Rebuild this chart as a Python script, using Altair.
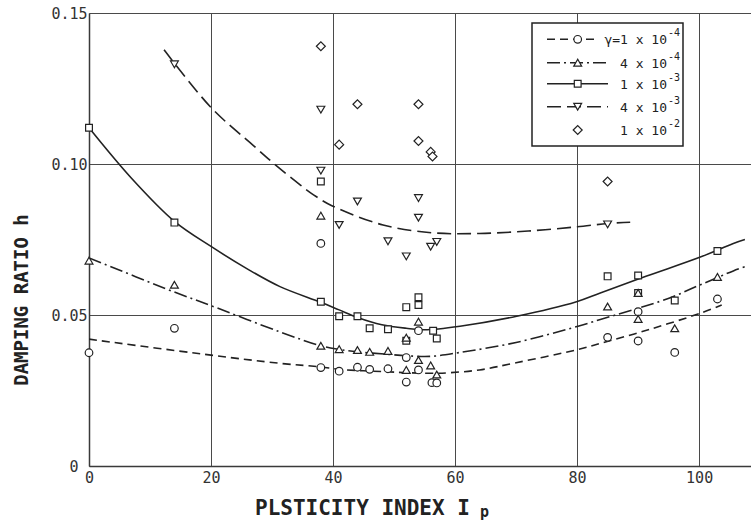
import altair as alt
import pandas as pd

# ---- measured damping ratios, one list pair per shear-strain level ----
circ_x = [0, 14, 38, 38, 41, 44, 46, 49, 52, 52, 54, 54, 56.2, 57, 85, 90, 90, 96, 103]
circ_y = [0.0375, 0.0456, 0.0737, 0.0326, 0.0314, 0.0327, 0.0320, 0.0322, 0.0359, 0.0278,
          0.0448, 0.0318, 0.0276, 0.0275, 0.0426, 0.0511, 0.0414, 0.0376, 0.0553]

tri_x = [0, 14, 38, 38, 41, 44, 46, 49, 52, 52, 54, 54, 56, 57, 85, 90, 90, 96, 103]
tri_y = [0.0680, 0.0600, 0.0829, 0.0398, 0.0387, 0.0384, 0.0378, 0.0381, 0.0425, 0.0318,
         0.0478, 0.0351, 0.0333, 0.0303, 0.0528, 0.0573, 0.0487, 0.0456, 0.0626]

sq_x = [0, 14, 38, 38, 41, 44, 46, 49, 52, 52, 54, 54, 56.4, 57, 85, 90, 90, 96, 103]
sq_y = [0.1120, 0.0806, 0.0942, 0.0544, 0.0496, 0.0496, 0.0456, 0.0453, 0.0526, 0.0415,
        0.0559, 0.0533, 0.0448, 0.0422, 0.0628, 0.0631, 0.0573, 0.0548, 0.0712]

inv_x = [14, 38, 38, 41, 44, 49, 52, 54, 54, 56, 57, 85]
inv_y = [0.1330, 0.1180, 0.0978, 0.0798, 0.0876, 0.0744, 0.0694, 0.0887, 0.0822, 0.0726,
         0.0742, 0.0800]

dia_x = [38, 41, 44, 54, 54, 56, 56.3, 85]
dia_y = [0.1390, 0.1064, 0.1198, 0.1198, 0.1076, 0.1040, 0.1025, 0.0942]

# ---- hand-fitted trend curves ----
c1_x = [0, 20, 31.3, 38, 41, 48.8, 52, 57, 59.2, 64, 70, 80, 84, 92, 100.2, 103.7]
c1_y = [0.0420, 0.0367, 0.0340, 0.0328, 0.0320, 0.0312, 0.0309, 0.0307, 0.0309, 0.0318,
        0.0342, 0.0385, 0.0407, 0.0453, 0.0506, 0.0533]

c2_x = [0, 14, 20, 31.3, 38, 41, 44, 48.8, 52, 56, 60.8, 70, 80, 83.8, 94.7, 100.2, 105.6, 107.5]
c2_y = [0.0689, 0.0576, 0.0531, 0.0444, 0.0398, 0.0386, 0.0378, 0.0370, 0.0365, 0.0363,
        0.0376, 0.0409, 0.0462, 0.0485, 0.0553, 0.0600, 0.0646, 0.0660]

c3_x = [0, 7, 14, 20, 26, 31.3, 38, 41, 44, 48, 52, 55, 60.8, 70.1, 79.9, 83.8, 91.4, 100.2, 105.6, 107.5]
c3_y = [0.1120, 0.0952, 0.0810, 0.0727, 0.0652, 0.0594, 0.0542, 0.0517, 0.0492, 0.0468,
        0.0456, 0.0451, 0.0463, 0.0496, 0.0544, 0.0573, 0.0629, 0.0692, 0.0737, 0.0750]

c4_x = [12.3, 20, 27, 30.5, 34.6, 36.8, 39.8, 48.2, 56.4, 64, 72, 80, 85, 88.7]
c4_y = [0.1378, 0.1187, 0.1060, 0.0998, 0.0931, 0.0898, 0.0862, 0.0798, 0.0772, 0.0770,
        0.0778, 0.0792, 0.0803, 0.0807]

# ---- legend entries ----
legend_text = ["\u03b3=1 x 10", "4 x 10", "1 x 10", "4 x 10", "1 x 10"]
legend_exp = ["-4", "-4", "-3", "-3", "-2"]

x_ticks = [0, 20, 40, 60, 80, 100]
y_ticks = [0, 0.05, 0.10, 0.15]

MONO = "DejaVu Sans Mono"
INK = "#222222"
W, H = 662, 453
X_MAX = 108.5

DASH_SHORT = [8, 5]
DASH_DOT = [13, 4, 2, 4]
DASH_LONG = [14, 6]

x_scale = alt.Scale(domain=[0, X_MAX], nice=False, zero=False)
y_scale = alt.Scale(domain=[0, 0.15], nice=False)

x_axis = alt.Axis(values=x_ticks, grid=True, ticks=False, domain=True,
                  domainColor="#3a3a3a", domainWidth=1.5,
                  gridColor="#4a4a4a", gridWidth=1,
                  labelFont=MONO, labelFontSize=15, labelColor="#333333",
                  labelPadding=4, labelFlush=False, labelOverlap=False, title=None)
y_axis = alt.Axis(values=y_ticks, grid=True, ticks=False, domain=True,
                  domainColor="#3a3a3a", domainWidth=1.5,
                  gridColor="#4a4a4a", gridWidth=1,
                  labelFont=MONO, labelFontSize=15, labelColor="#333333",
                  labelExpr="datum.value == 0 ? '0' : format(datum.value, '.2f')",
                  labelPadding={"condition": {"test": "datum.value == 0", "value": 11}, "value": 2},
                  labelFlush=False, labelOverlap=False, title=None)


def X():
    return alt.X("x:Q", scale=x_scale, axis=x_axis)


def Y():
    return alt.Y("y:Q", scale=y_scale, axis=y_axis)


def curve(xs, ys, dash=None):
    kw = dict(color=INK, strokeWidth=1.6, interpolate="catmull-rom", clip=True)
    if dash:
        kw["strokeDash"] = dash
    df = pd.DataFrame({"x": xs, "y": ys})
    return alt.Chart(df).mark_line(**kw).encode(x=X(), y=Y())


def points(xs, ys, shape, size):
    df = pd.DataFrame({"x": xs, "y": ys})
    return alt.Chart(df).mark_point(shape=shape, size=size, filled=True, fill="white",
                                    stroke=INK, strokeWidth=1.2, opacity=1).encode(x=X(), y=Y())


layers = [
    curve(c1_x, c1_y, DASH_SHORT),
    curve(c2_x, c2_y, DASH_DOT),
    curve(c3_x, c3_y),
    curve(c4_x, c4_y, DASH_LONG),
    points(sq_x, sq_y, "square", 46),
    points(circ_x, circ_y, "circle", 58),
    points(tri_x, tri_y, "triangle-up", 62),
    points(inv_x, inv_y, "triangle-down", 62),
    points(dia_x, dia_y, "diamond", 80),
]

# ---- legend box drawn in pixel space of the plot area ----
ONE = pd.DataFrame({"k": [0]})
layers.append(
    alt.Chart(ONE).mark_rect(fill="white", stroke=INK, strokeWidth=1.5).encode(
        x=alt.value(443), x2=alt.value(594), y=alt.value(10), y2=alt.value(133))
)

row_y = [26.3, 49.7, 70.8, 93.7, 117]
row_dash = [DASH_SHORT, DASH_DOT, None, DASH_LONG]
row_end = [506, 519, 519, 519]
row_shape = ["circle", "triangle-up", "square", "triangle-down", "diamond"]
row_size = [58, 62, 46, 62, 80]

for i, ry in enumerate(row_y):
    if i < 4:
        kw = dict(color=INK, strokeWidth=1.6)
        if row_dash[i]:
            kw["strokeDash"] = row_dash[i]
        layers.append(alt.Chart(ONE).mark_rule(**kw).encode(
            x=alt.value(458), x2=alt.value(row_end[i]), y=alt.value(ry)))
    layers.append(alt.Chart(ONE).mark_point(
        shape=row_shape[i], size=row_size[i], filled=True, fill="white",
        stroke=INK, strokeWidth=1.2, opacity=1).encode(x=alt.value(488.7), y=alt.value(ry)))
    layers.append(alt.Chart(ONE).mark_text(
        text=legend_text[i], align="right", baseline="middle", font=MONO,
        fontSize=13, color=INK).encode(x=alt.value(578), y=alt.value(ry + 1)))
    layers.append(alt.Chart(ONE).mark_text(
        text=legend_exp[i], align="left", baseline="middle", font=MONO,
        fontSize=10, color=INK).encode(x=alt.value(579), y=alt.value(ry - 6)))

# ---- axis titles ----
layers.append(alt.Chart(ONE).mark_text(
    text="PLSTICITY INDEX I", align="left", baseline="alphabetic", font=MONO,
    fontSize=21, fontWeight="bold", color=INK).encode(x=alt.value(166), y=alt.value(502)))
layers.append(alt.Chart(ONE).mark_text(
    text="p", align="left", baseline="alphabetic", font=MONO,
    fontSize=15, fontWeight="bold", color=INK).encode(x=alt.value(391), y=alt.value(504)))
layers.append(alt.Chart(ONE).mark_text(
    text="DAMPING RATIO h", angle=270, align="center", baseline="middle", font=MONO,
    fontSize=19, fontWeight="bold", color=INK).encode(x=alt.value(-67), y=alt.value(287)))

chart = alt.layer(*layers).properties(
    width=W, height=H,
    padding={"left": 89, "top": 13, "right": 0, "bottom": 59},
    autosize=alt.AutoSizeParams(type="none"),
    background="white",
).configure_view(stroke=None)

chart.save("out.html", embed_options={"renderer": "svg", "actions": False})
